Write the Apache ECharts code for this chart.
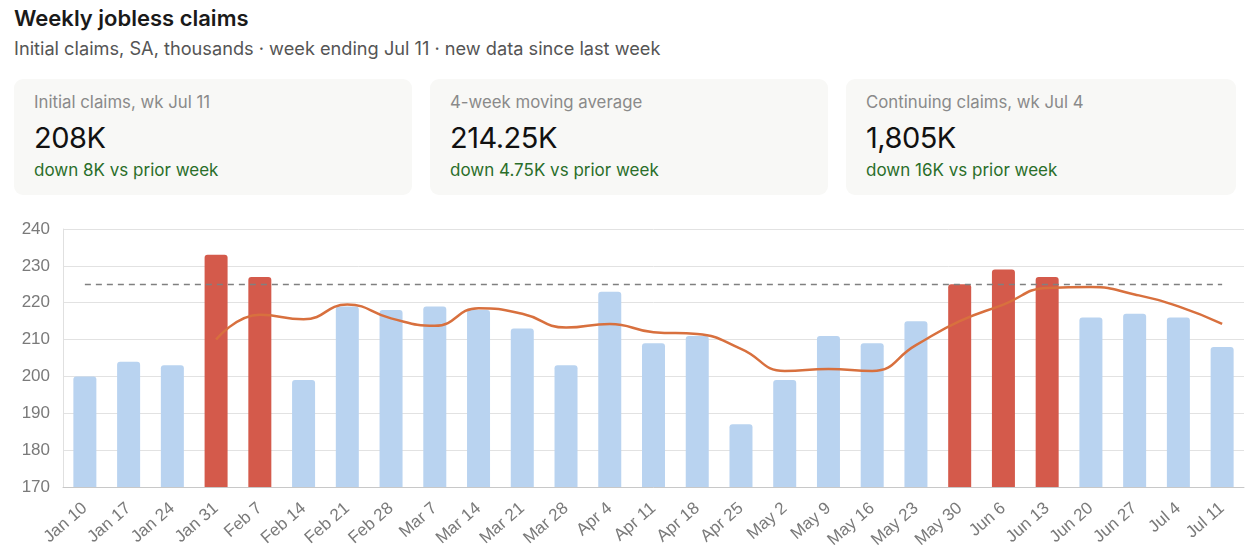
<!DOCTYPE html>
<html>
<head>
<meta charset="utf-8">
<script src="https://cdn.jsdelivr.net/npm/echarts@6/dist/echarts.min.js"></script>
<style>
  body { margin: 0; background: #fff; font-family: Inter, "Noto Sans", sans-serif; }
  #wrap { position: relative; width: 1245px; height: 558px; overflow: hidden; }
  .title { position: absolute; left: 14px; top: 5px; font-size: 22px; font-weight: 600; color: #1a1a1a; }
  .sub { position: absolute; left: 14px; top: 37px; font-size: 18.2px; color: #555; }
  .card { position: absolute; top: 79px; height: 116px; background: #f8f8f6; border-radius: 9px; }
  .card .lab { position: absolute; left: 20px; top: 13px; font-size: 16.8px; color: #8a8a8a; }
  .card .big { position: absolute; left: 20px; top: 41px; font-size: 29px; color: #111; letter-spacing: -0.5px; }
  .card .chg { position: absolute; left: 20px; top: 81px; font-size: 17px; color: #2a6e2a; }
  #chart { position: absolute; left: 0; top: 210px; width: 1245px; height: 348px; }
</style>
</head>
<body>
<div id="wrap">
  <div class="title">Weekly jobless claims</div>
  <div class="sub">Initial claims, SA, thousands · week ending Jul 11 · new data since last week</div>
  <div class="card" style="left:14px;width:398px">
    <div class="lab">Initial claims, wk Jul 11</div>
    <div class="big">208K</div>
    <div class="chg">down 8K vs prior week</div>
  </div>
  <div class="card" style="left:430px;width:398px">
    <div class="lab">4-week moving average</div>
    <div class="big">214.25K</div>
    <div class="chg">down 4.75K vs prior week</div>
  </div>
  <div class="card" style="left:846px;width:390px">
    <div class="lab">Continuing claims, wk Jul 4</div>
    <div class="big">1,805K</div>
    <div class="chg">down 16K vs prior week</div>
  </div>
  <div id="chart"></div>
</div>
<script>
// weeks ending
var weeks = ['Jan 10', 'Jan 17', 'Jan 24', 'Jan 31', 'Feb 7', 'Feb 14', 'Feb 21', 'Feb 28',
  'Mar 7', 'Mar 14', 'Mar 21', 'Mar 28', 'Apr 4', 'Apr 11', 'Apr 18', 'Apr 25',
  'May 2', 'May 9', 'May 16', 'May 23', 'May 30', 'Jun 6', 'Jun 13', 'Jun 20',
  'Jun 27', 'Jul 4', 'Jul 11'];
// initial claims, thousands
var claims = [200, 204, 203, 233, 227, 199, 219, 218, 219, 218, 213, 203, 223, 209, 211, 187,
  199, 211, 209, 215, 225, 229, 227, 216, 217, 216, 208];
// 4-week moving average (starts on 4th week)
var movingAvg = ['-', '-', '-', 210, 216.75, 215.5, 219.5, 215.75, 213.75, 218.5, 217, 213.25,
  214.25, 212, 211.5, 207.5, 201.5, 202, 201.5, 208.5, 215, 219.5, 224, 224.25, 222.25, 219, 214.25];
var threshold = 225;
var yTicks = [170, 240, 10]; // min, max, step

var chart = echarts.init(document.getElementById('chart'));

var barData = claims.map(function (v) {
  return {
    value: v,
    itemStyle: { color: v >= threshold ? '#d45a4b' : '#b9d3f0' }
  };
});

var option = {
  animation: false,
  grid: { left: 63, right: 1, top: 19, bottom: 71 },
  xAxis: {
    type: 'category',
    data: weeks,
    axisLine: { lineStyle: { color: '#c8c8c8' } },
    axisTick: { show: false },
    axisLabel: {
      interval: 0,
      rotate: 41,
      color: '#7a7a7a',
      fontSize: 17,
      fontFamily: 'Liberation Sans, Arial, sans-serif',
      margin: 19
    }
  },
  yAxis: {
    type: 'value',
    min: yTicks[0],
    max: yTicks[1],
    interval: yTicks[2],
    axisLine: { show: true, lineStyle: { color: '#e0e0e0' } },
    splitLine: { lineStyle: { color: '#e2e2e2' } },
    axisLabel: {
      color: '#7a7a7a',
      fontSize: 17,
      fontFamily: 'Liberation Sans, Arial, sans-serif',
      margin: 13
    }
  },
  series: [
    {
      name: 'Initial claims',
      type: 'bar',
      barWidth: 23,
      data: barData,
      itemStyle: { borderRadius: [3, 3, 0, 0] },
      markLine: {
        silent: true,
        symbol: 'none',
        label: { show: false },
        lineStyle: { color: '#808080', type: [6, 5], width: 1.3 },
        data: [[{ coord: [weeks[0], threshold] }, { coord: [weeks[weeks.length - 1], threshold] }]]
      }
    },
    {
      name: '4-week avg',
      type: 'line',
      smooth: true,
      symbol: 'none',
      data: movingAvg,
      lineStyle: { color: '#d8703e', width: 2.5 },
      z: 3
    }
  ]
};

chart.setOption(option);
</script>
</body>
</html>
